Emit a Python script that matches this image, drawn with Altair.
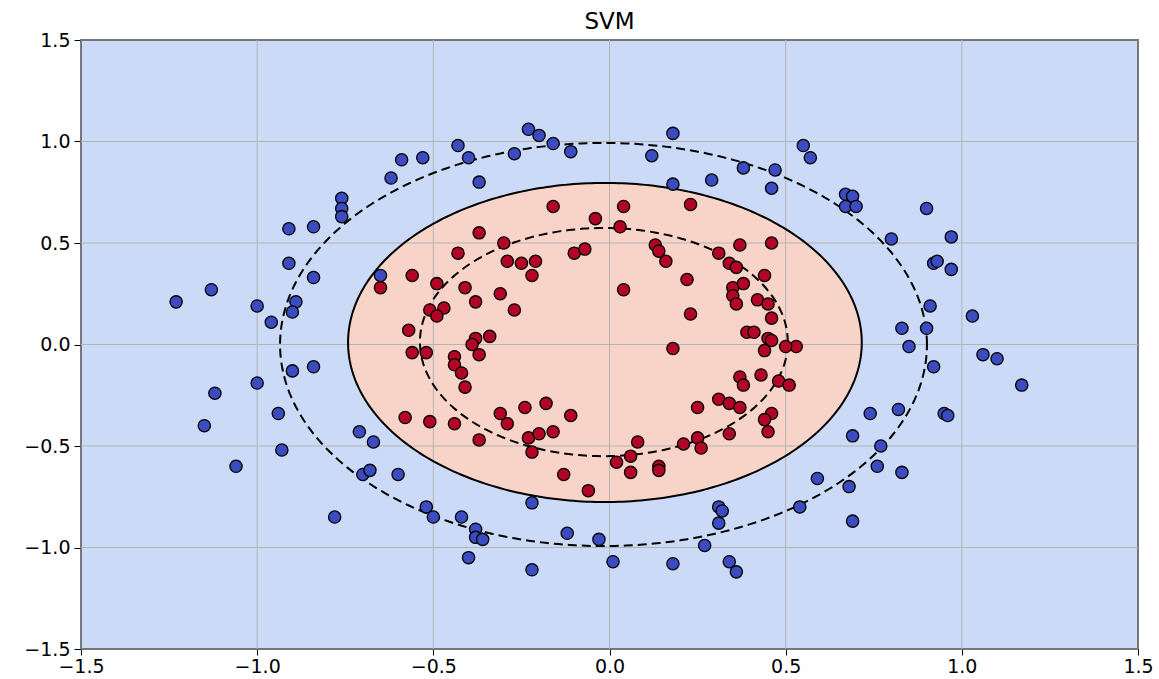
import altair as alt
import numpy as np
import pandas as pd

# ---- data (data coordinates) ----
blue_x = [-1.23, -1.13, -1.12, -1.15, -1.06, -1.00, -1.00, -0.96, -0.94, -0.93,
          -0.91, -0.91, -0.89, -0.90, -0.90, -0.84, -0.84, -0.84, -0.78, -0.76,
          -0.76, -0.76, -0.71, -0.67, -0.70, -0.68, -0.65, -0.62, -0.60, -0.59,
          -0.53, -0.52, -0.50, -0.43, -0.40, -0.42, -0.40, -0.38, -0.38, -0.36,
          -0.37, -0.27, -0.23, -0.20, -0.16, -0.11, -0.22, -0.22, -0.12, -0.03,
          0.01, 0.12, 0.18, 0.18, 0.29, 0.18, 0.27, 0.31, 0.32, 0.31,
          0.34, 0.36, 0.38, 0.46, 0.47, 0.55, 0.57, 0.54, 0.59, 0.67,
          0.69, 0.67, 0.70, 0.69, 0.68, 0.69, 0.74, 0.76, 0.77, 0.80,
          0.82, 0.83, 0.83, 0.85, 0.90, 0.92, 0.93, 0.91, 0.90, 0.92,
          0.95, 0.96, 0.97, 0.97, 1.03, 1.06, 1.10, 1.17]
blue_y = [0.21, 0.27, -0.24, -0.40, -0.60, 0.19, -0.19, 0.11, -0.34, -0.52,
          0.57, 0.40, 0.21, 0.16, -0.13, -0.11, 0.58, 0.33, -0.85, 0.72,
          0.67, 0.63, -0.43, -0.48, -0.64, -0.62, 0.34, 0.82, -0.64, 0.91,
          0.92, -0.80, -0.85, 0.98, 0.92, -0.85, -1.05, -0.91, -0.95, -0.96,
          0.80, 0.94, 1.06, 1.03, 0.99, 0.95, -0.78, -1.11, -0.93, -0.96,
          -1.07, 0.93, 1.04, 0.79, 0.81, -1.08, -0.99, -0.80, -0.82, -0.88,
          -1.07, -1.12, 0.87, 0.77, 0.86, 0.98, 0.92, -0.80, -0.66, 0.74,
          0.73, 0.68, 0.68, -0.45, -0.70, -0.87, -0.34, -0.60, -0.50, 0.52,
          -0.32, 0.08, -0.63, -0.01, 0.67, 0.40, 0.41, 0.19, 0.08, -0.11,
          -0.34, -0.35, 0.53, 0.37, 0.14, -0.05, -0.07, -0.20]

red_x = [-0.16, 0.04, 0.23, -0.04, 0.03, -0.37, -0.30, -0.43, -0.10, -0.07,
         0.13, 0.14, 0.16, -0.29, -0.25, -0.21, -0.22, 0.31, 0.37, 0.34,
         0.36, 0.22, 0.04, -0.41, -0.31, -0.38, -0.27, 0.35, 0.38, 0.35,
         0.36, 0.23, 0.39, -0.34, -0.38, -0.39, 0.18, 0.46, 0.44, 0.42,
         0.45, 0.46, 0.41, 0.45, 0.46, 0.53, 0.50, -0.56, -0.65, -0.49,
         -0.47, -0.51, -0.49, -0.57, -0.56, -0.52, -0.44, -0.37, -0.44, -0.42,
         -0.41, -0.44, -0.37, -0.31, -0.29, -0.24, -0.18, -0.11, -0.23, -0.20,
         -0.16, -0.22, -0.13, -0.06, 0.02, 0.06, 0.08, 0.06, 0.14, 0.14,
         0.21, 0.25, 0.26, 0.25, 0.31, 0.34, 0.37, 0.34, 0.37, 0.38,
         0.44, 0.43, 0.48, 0.51, 0.46, 0.44, 0.45, -0.58, -0.51]
red_y = [0.68, 0.68, 0.69, 0.62, 0.58, 0.55, 0.50, 0.45, 0.45, 0.47,
         0.49, 0.46, 0.41, 0.41, 0.40, 0.41, 0.34, 0.45, 0.49, 0.40,
         0.38, 0.32, 0.27, 0.28, 0.25, 0.21, 0.17, 0.28, 0.30, 0.24,
         0.20, 0.15, 0.06, 0.04, 0.03, 0.00, -0.02, 0.50, 0.34, 0.22,
         0.20, 0.13, 0.06, 0.03, 0.02, -0.01, -0.01, 0.34, 0.28, 0.30,
         0.18, 0.17, 0.14, 0.07, -0.04, -0.04, -0.06, -0.05, -0.10, -0.14,
         -0.21, -0.39, -0.47, -0.34, -0.39, -0.31, -0.29, -0.35, -0.46, -0.44,
         -0.43, -0.53, -0.64, -0.72, -0.58, -0.55, -0.48, -0.63, -0.60, -0.62,
         -0.49, -0.46, -0.51, -0.31, -0.27, -0.29, -0.31, -0.44, -0.16, -0.20,
         -0.03, -0.15, -0.18, -0.20, -0.34, -0.37, -0.43, -0.36, -0.38]

tick_values = [-1.5, -1.0, -0.5, 0.0, 0.5, 1.0, 1.5]

# decision-function level sets: centre x, centre y, radius x, radius y
boundary = [-0.013, 0.010, 0.729, 0.786]
margin_outer = [-0.017, 0.000, 0.918, 0.993]
margin_inner = [-0.016, 0.012, 0.522, 0.562]

BLUE_BG = "#cbdaf7"
RED_BG = "#f8d4c8"
BLUE_PT = "#3b4cc0"
RED_PT = "#b40426"

# ---- build tables ----
pts = pd.DataFrame({
    "x": blue_x + red_x,
    "y": blue_y + red_y,
    "cls": ["0"] * len(blue_x) + ["1"] * len(red_x),
})

def ring(params, name):
    cx, cy, rx, ry = params
    t = np.linspace(0, 2 * np.pi, 361)
    return pd.DataFrame({"x": cx + rx * np.cos(t), "y": cy + ry * np.sin(t),
                         "i": np.arange(len(t)), "curve": name})

cx, cy, rx, ry = boundary
th = np.linspace(0, np.pi, 241)
fill_df = pd.DataFrame({"x": cx + rx * np.cos(th),
                        "y": cy + ry * np.sin(th),
                        "y2": cy - ry * np.sin(th)})

rings = pd.concat([ring(boundary, "solid"), ring(margin_outer, "outer"),
                   ring(margin_inner, "inner")], ignore_index=True)
grid_df = pd.DataFrame({"v": tick_values})

xscale = alt.Scale(domain=[-1.5, 1.5], nice=False, zero=False)
yscale = alt.Scale(domain=[-1.5, 1.5], nice=False, zero=False)

axis_common = dict(values=tick_values, format=".1f", title=None, grid=False,
                   domain=False, ticks=True, tickColor="black",
                   tickWidth=1, labelFontSize=19, labelFont="DejaVu Sans",
                   labelColor="black", labelFlush=False, labelOverlap=False)

fill = alt.Chart(fill_df).mark_area(color=RED_BG, opacity=1, orient="vertical").encode(
    x=alt.X("x:Q", scale=xscale,
            axis=alt.Axis(tickSize=6, labelPadding=2, **axis_common)),
    y=alt.Y("y:Q", scale=yscale,
            axis=alt.Axis(tickSize=7, labelPadding=4, **axis_common)),
    y2="y2:Q",
)

grid_v = alt.Chart(grid_df).mark_rule(color="#b3b3b3", strokeWidth=1).encode(
    x=alt.X("v:Q", scale=xscale))
grid_h = alt.Chart(grid_df).mark_rule(color="#b3b3b3", strokeWidth=1).encode(
    y=alt.Y("v:Q", scale=yscale))

solid = alt.Chart(rings[rings.curve == "solid"]).mark_line(
    color="black", strokeWidth=2).encode(
    x=alt.X("x:Q", scale=xscale), y=alt.Y("y:Q", scale=yscale), order="i:Q")

dashed = alt.Chart(rings[rings.curve != "solid"]).mark_line(
    color="black", strokeWidth=2, strokeDash=[9, 5]).encode(
    x=alt.X("x:Q", scale=xscale), y=alt.Y("y:Q", scale=yscale),
    detail="curve:N", order="i:Q")

points = alt.Chart(pts).mark_circle(size=150, stroke="black", strokeWidth=1.3,
                                    opacity=1).encode(
    x=alt.X("x:Q", scale=xscale),
    y=alt.Y("y:Q", scale=yscale),
    color=alt.Color("cls:N", scale=alt.Scale(domain=["0", "1"], range=[BLUE_PT, RED_PT]),
                    legend=None),
)

chart = alt.layer(fill, grid_v, grid_h, solid, dashed, points).properties(
    width=1057, height=609,
    title=alt.TitleParams("SVM", fontSize=23, font="DejaVu Sans", fontWeight="normal",
                          color="black", anchor="middle", frame="group", offset=-3),
    padding={"left": 81, "top": 40, "right": 21, "bottom": 30},
    autosize=alt.AutoSizeParams(type="none"),
).configure(background="white").configure_view(
    fill=BLUE_BG, stroke="black", strokeWidth=1.5)

chart.save("out.html", embed_options={"renderer": "svg", "actions": False})
